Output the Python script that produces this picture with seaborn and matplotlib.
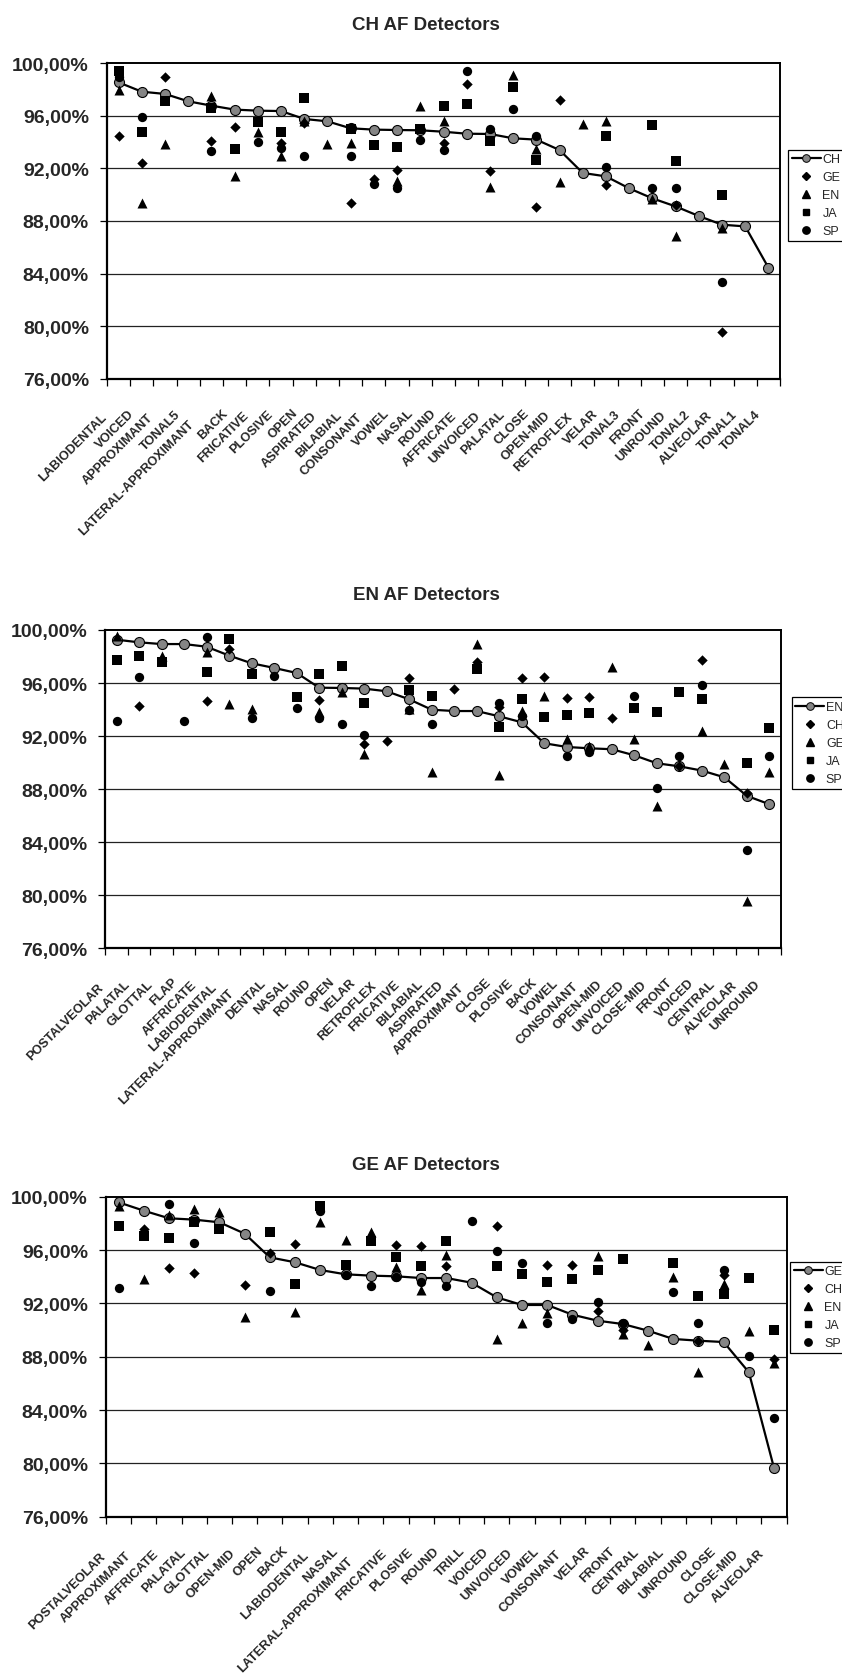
import numpy as np
import matplotlib
matplotlib.use("Agg")
import matplotlib.pyplot as plt
import seaborn as sns
from matplotlib.ticker import FuncFormatter, FixedLocator
from matplotlib.transforms import ScaledTranslation
from matplotlib.lines import Line2D

nan = np.nan

# ---------------- Panel 1: CH AF Detectors ----------------
cats1 = ["LABIODENTAL", "VOICED", "APPROXIMANT", "TONAL5", "LATERAL-APPROXIMANT", "BACK",
         "FRICATIVE", "PLOSIVE", "OPEN", "ASPIRATED", "BILABIAL", "CONSONANT", "VOWEL",
         "NASAL", "ROUND", "AFFRICATE", "UNVOICED", "PALATAL", "CLOSE", "OPEN-MID",
         "RETROFLEX", "VELAR", "TONAL3", "FRONT", "UNROUND", "TONAL2", "ALVEOLAR",
         "TONAL1", "TONAL4"]
ch1 = [98.53, 97.82, 97.65, 97.09, 96.76, 96.46, 96.38, 96.35, 95.75, 95.57, 95.04, 94.94,
       94.91, 94.89, 94.78, 94.63, 94.61, 94.28, 94.18, 93.39, 91.65, 91.39, 90.48, 89.72,
       89.11, 88.38, 87.72, 87.59, 84.46]
ge1 = [94.48, 92.43, 98.96, nan, 94.10, 95.11, nan, 93.92, 95.42, nan, 89.34, 91.19,
       91.90, nan, 93.90, 98.41, 91.82, nan, 89.09, 97.19, nan, 90.76, nan, nan,
       89.24, nan, 79.59, nan, nan]
en1 = [97.97, 89.37, 93.82, nan, 97.47, 91.44, 94.73, 92.96, 95.60, 93.82, 93.90, nan,
       91.06, 96.71, 95.62, nan, 90.56, 99.09, 93.47, 90.99, 95.37, 95.62, nan, 89.67,
       86.84, nan, 87.47, nan, nan]
ja1 = [99.37, 94.73, 97.09, nan, 96.58, 93.44, 95.49, 94.78, 97.32, nan, 94.99, 93.77,
       93.65, 94.99, 96.76, 96.89, 94.10, 98.15, 92.66, nan, nan, 94.48, nan, 95.32,
       92.56, nan, 90.00, nan, nan]
sp1 = [98.90, 95.92, nan, nan, 93.29, nan, 93.97, 93.52, 92.91, nan, 92.91, 90.78,
       90.51, 94.15, 93.39, 99.42, 94.99, 96.51, 94.48, nan, nan, 92.08, nan, 90.51,
       90.48, nan, 83.39, nan, nan]

# ---------------- Panel 2: EN AF Detectors ----------------
cats2 = ["POSTALVEOLAR", "PALATAL", "GLOTTAL", "FLAP", "AFFRICATE", "LABIODENTAL",
         "LATERAL-APPROXIMANT", "DENTAL", "NASAL", "ROUND", "OPEN", "VELAR", "RETROFLEX",
         "FRICATIVE", "BILABIAL", "ASPIRATED", "APPROXIMANT", "CLOSE", "PLOSIVE", "BACK",
         "VOWEL", "CONSONANT", "OPEN-MID", "UNVOICED", "CLOSE-MID", "FRONT", "VOICED",
         "CENTRAL", "ALVEOLAR", "UNROUND"]
en2 = [99.27, 99.07, 98.94, 98.94, 98.74, 98.07, 97.49, 97.14, 96.76, 95.65, 95.63, 95.58,
       95.38, 94.77, 93.99, 93.89, 93.89, 93.49, 93.04, 91.46, 91.18, 91.08, 91.01, 90.55,
       89.95, 89.72, 89.40, 88.89, 87.49, 86.86]
ch2 = [nan, 94.25, nan, nan, 94.62, 98.60, nan, nan, nan, 94.75, nan, 91.41, 91.61, 96.36,
       nan, 95.55, 97.60, 94.20, 96.36, 96.46, 94.85, 94.92, 93.37, nan, nan, 89.77, 97.76,
       nan, 87.71, nan]
ge2 = [99.57, nan, 98.07, nan, 98.32, 94.42, 94.05, nan, nan, 93.79, 95.30, 90.65, nan,
       94.05, 89.32, nan, 98.94, 89.07, 93.92, 95.05, 91.78, 91.28, 97.19, 91.78, 86.76,
       nan, 92.41, 89.90, 79.60, 89.27]
ja2 = [97.76, 98.07, 97.56, nan, 96.86, 99.32, 96.66, nan, 94.92, 96.66, 97.31, 94.47, nan,
       95.48, 95.00, nan, 97.06, 92.66, 94.80, 93.42, 93.59, 93.77, nan, 94.10, 93.84,
       95.33, 94.77, nan, 90.00, 92.59]
sp2 = [93.12, 96.48, nan, 93.12, 99.45, nan, 93.34, 96.56, 94.12, 93.37, 92.94, 92.11, nan,
       93.97, 92.89, nan, nan, 94.50, 93.54, nan, 90.53, 90.78, nan, 95.00, 88.07, 90.53,
       95.88, nan, 83.44, 90.53]

# ---------------- Panel 3: GE AF Detectors ----------------
cats3 = ["POSTALVEOLAR", "APPROXIMANT", "AFFRICATE", "PALATAL", "GLOTTAL", "OPEN-MID",
         "OPEN", "BACK", "LABIODENTAL", "NASAL", "LATERAL-APPROXIMANT", "FRICATIVE",
         "PLOSIVE", "ROUND", "TRILL", "VOICED", "UNVOICED", "VOWEL", "CONSONANT", "VELAR",
         "FRONT", "CENTRAL", "BILABIAL", "UNROUND", "CLOSE", "CLOSE-MID", "ALVEOLAR"]
ge3 = [99.58, 98.95, 98.38, 98.28, 98.08, 97.23, 95.45, 95.08, 94.50, 94.18, 94.08, 94.03,
       93.90, 93.90, 93.55, 92.45, 91.88, 91.88, 91.15, 90.70, 90.45, 89.95, 89.33, 89.20,
       89.10, 86.83, 79.63]
ch3 = [nan, 97.60, 94.63, 94.28, nan, 93.40, 95.78, 96.45, nan, nan, nan, 96.35, 96.33,
       94.78, nan, 97.78, nan, 94.88, 94.90, 91.45, 90.00, nan, nan, 89.20, 94.10, nan, 87.80]
en3 = [99.28, 93.83, 98.60, 99.08, 98.88, 90.98, nan, 91.38, 98.08, 96.73, 97.38, 94.70,
       93.03, 95.63, nan, 89.33, 90.53, 91.28, nan, 95.58, 89.70, 88.88, 93.95, 86.88,
       93.45, 89.90, 87.50]
ja3 = [97.78, 97.03, 96.88, 98.08, 97.58, nan, 97.33, 93.45, 99.33, 94.88, 96.70, 95.50,
       94.78, 96.70, nan, 94.78, 94.20, 93.63, 93.80, 94.50, 95.33, nan, 95.00, 92.58,
       92.70, 93.90, 90.00]
sp3 = [93.15, nan, 99.43, 96.53, nan, nan, 92.95, nan, 98.90, 94.10, 93.33, 93.95, 93.58,
       93.33, 98.20, 95.95, 95.00, 90.53, 90.83, 92.13, 90.53, nan, 92.88, 90.50, 94.50,
       88.03, 83.43]

yticks = [76, 80, 84, 88, 92, 96, 100]

# ---------------- styling ----------------
sns.set_style("white")
plt.rcParams["font.family"] = ["Liberation Sans", "DejaVu Sans"]

W, H = 842, 1674
fig = plt.figure(figsize=(W / 100, H / 100), dpi=100)
fig.patch.set_facecolor("white")

MARKERS = [("D", 28), ("^", 52), ("s", 42), ("o", 45)]
axes = []


def panel(rect_px, title, title_y, cats, main, others, leg_anchor):
    l, t, r, b = rect_px
    ax = fig.add_axes([l / W, 1 - b / H, (r - l) / W, (b - t) / H])
    n = len(cats)
    mname, mvals = main
    sns.lineplot(x=cats, y=mvals, ax=ax, sort=False, estimator=None, color="black",
                 linewidth=1.6, marker="o", markersize=7.2, markerfacecolor="#858585",
                 markeredgecolor="black", markeredgewidth=0.8, zorder=2)
    handles = [Line2D([], [], color="black", lw=1.6, marker="o", markersize=5.5,
                      markerfacecolor="#858585", markeredgecolor="black",
                      markeredgewidth=0.7)]
    labels = [mname]
    for (name, vals), (mk, s) in zip(others, MARKERS):
        sns.scatterplot(x=cats, y=vals, ax=ax, marker=mk, s=s, color="black",
                        edgecolor="black", linewidth=0, zorder=3)
        handles.append(Line2D([], [], lw=0, marker=mk, color="black",
                              markersize={"D": 4.3, "^": 5.5, "s": 5.0, "o": 5.3}[mk]))
        labels.append(name)

    ax.set_xlim(-0.5, n - 0.5)
    ax.set_ylim(76, 100)
    ax.set_xlabel("")
    ax.set_ylabel("")
    ax.yaxis.set_major_locator(FixedLocator(yticks))
    ax.yaxis.set_major_formatter(FuncFormatter(lambda v, p: f"{v:.2f}%".replace(".", ",")))
    for v in yticks[1:-1]:
        ax.axhline(v, color="#222222", lw=0.9, zorder=1)
    ax.set_xticks(range(n))
    ax.xaxis.set_minor_locator(FixedLocator(np.arange(-0.5, n, 1.0)))
    ax.tick_params(axis="x", which="major", length=0, pad=0)
    ax.tick_params(axis="x", which="minor", length=5, width=0.9, direction="out",
                   color="black", bottom=True)
    ax.tick_params(axis="y", which="major", length=5, width=0.9, direction="out",
                   color="black", left=True, pad=8)
    ax.set_xticklabels(cats, rotation=45, ha="right", va="center", rotation_mode="anchor",
                       fontsize=9.2, fontweight="bold")
    for lab in ax.get_yticklabels():
        lab.set_fontsize(14)
        lab.set_fontweight("bold")
    for side, sp in ax.spines.items():
        sp.set_visible(True)
        sp.set_color("black")
        sp.set_linewidth(1.6 if side in ("left", "bottom") else 1.4)
    ax.grid(False)
    leg = ax.legend(handles, labels, loc="upper left", bbox_to_anchor=leg_anchor,
                    frameon=True, fancybox=False, framealpha=1, edgecolor="black",
                    fontsize=9, borderpad=0.3, labelspacing=0.48, handlelength=2.3,
                    handletextpad=0.15, borderaxespad=0)
    leg.get_frame().set_linewidth(0.9)
    fig.text(0.506, 1 - title_y / H, title, ha="center", va="center",
             fontsize=13.5, fontweight="bold")
    axes.append(ax)
    return ax


panel((107, 64, 780, 380), "CH AF Detectors", 25, cats1, ("CH", ch1),
      [("GE", ge1), ("EN", en1), ("JA", ja1), ("SP", sp1)], (1.012, 0.726))
panel((105.3, 631, 780.7, 949.3), "EN AF Detectors", 596, cats2, ("EN", en2),
      [("CH", ch2), ("GE", ge2), ("JA", ja2), ("SP", sp2)], (1.016, 0.789))
panel((106, 1197.7, 786.7, 1517.7), "GE AF Detectors", 1166, cats3, ("GE", ge3),
      [("CH", ch3), ("EN", en3), ("JA", ja3), ("SP", sp3)], (1.005, 0.797))

# place the rotated category labels: each one's end sits a little down-left of its tick,
# longer labels sliding further along their own diagonal (as in the reference)
fig.canvas.draw()
renderer = fig.canvas.get_renderer()
r2 = np.sqrt(2.0)
for ax in axes:
    for lab in ax.get_xticklabels():
        w = lab.get_window_extent(renderer).width
        L = w * r2 - 15
        along = 24.0 + 0.13 * L
        perp = 15.9
        dx = (-along + perp) / r2
        dy = (along + perp) / r2
        lab.set_transform(lab.get_transform() +
                          ScaledTranslation(dx / 100, -dy / 100, fig.dpi_scale_trans))

fig.savefig("out.png", dpi=100, facecolor="white")
